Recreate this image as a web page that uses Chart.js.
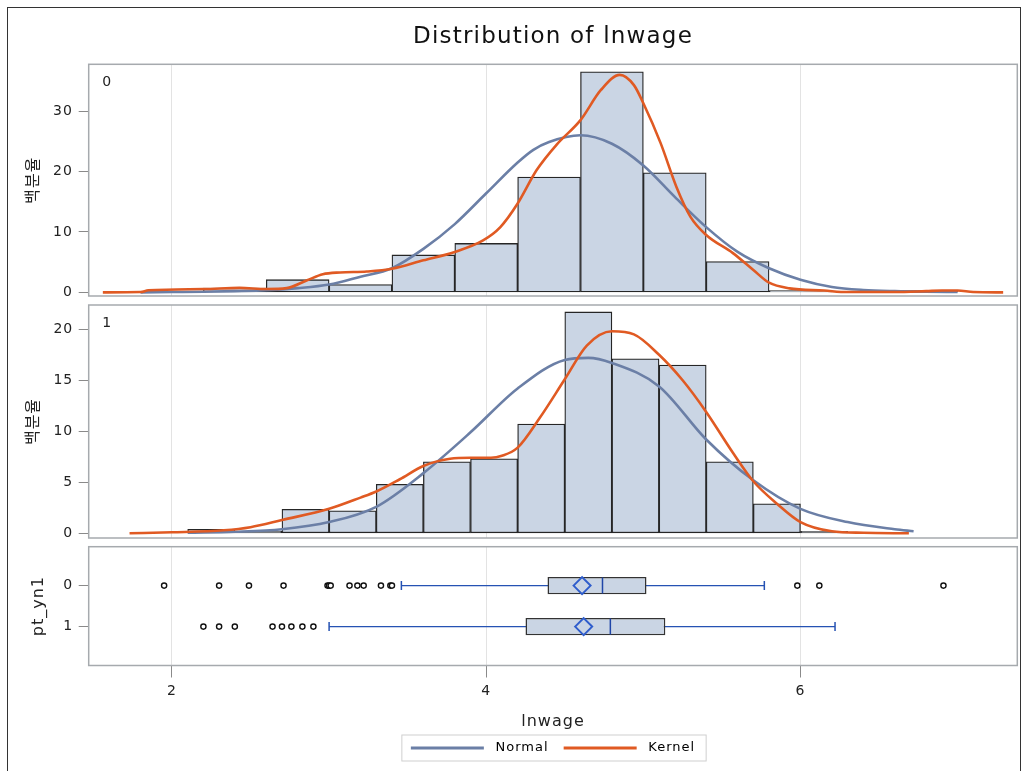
<!DOCTYPE html>
<html>
<head>
<meta charset="utf-8">
<script src="https://cdn.jsdelivr.net/npm/chart.js@4.4.1/dist/chart.umd.min.js"></script>
<style>
  html, body { margin: 0; padding: 0; background: #fff; }
  #wrap { position: relative; width: 1022px; height: 771px; overflow: hidden; }
  #frame { position: absolute; left: 7px; top: 7px; width: 1012px; height: 800px; border: 1px solid #333; }
  canvas { position: absolute; left: 0; }
</style>
</head>
<body>
<div id="wrap">
  <div id="frame"></div>
  <canvas id="histChart0" width="1022" height="310" style="top:0"></canvas>
  <canvas id="histChart1" width="1022" height="265" style="top:290px"></canvas>
  <canvas id="boxChart" width="1022" height="241" style="top:530px"></canvas>
</div>
<script>
// 공통 x축 (lnwage)
const xMin = 1.47, xMax = 7.38;
const xTicks = [2, 4, 6];

// pt_yn1 = 0 : 히스토그램 (구간폭 0.4)
const binWidth0 = 0.4;
const binStart0 = [2.2, 2.6, 3.0, 3.4, 3.8, 4.2, 4.6, 5.0, 5.4, 5.8, 6.6];
const pct0 = [0.7, 2.1, 1.3, 6.2, 8.1, 19.1, 36.5, 19.8, 5.1, 0.3, 0.3];
const yTicks0 = [0, 10, 20, 30];

const normal0X = [1.8, 2.0, 2.2, 2.4, 2.6, 2.8, 3.0, 3.2, 3.4, 3.6, 3.8, 4.0, 4.2, 4.3, 4.4, 4.6, 4.8, 5.0, 5.2, 5.4, 5.6, 5.8, 6.0, 6.2, 6.4, 6.6, 6.8, 7.0];
const normal0Y = [0.0, 0.05, 0.1, 0.2, 0.35, 0.7, 1.3, 2.6, 4.0, 7.2, 11.3, 16.4, 21.5, 23.6, 24.9, 26.0, 24.6, 21.0, 15.8, 10.8, 6.7, 4.0, 2.1, 0.9, 0.4, 0.2, 0.1, 0.05];

const kernel0X = [1.56, 1.8, 1.85, 2.2, 2.43, 2.6, 2.73, 2.86, 2.96, 3.07, 3.24, 3.4, 3.6, 3.8, 3.98, 4.09, 4.2, 4.32, 4.45, 4.6, 4.73, 4.85, 4.94, 5.0, 5.11, 5.21, 5.3, 5.4, 5.57, 5.7, 5.8, 5.93, 6.15, 6.3, 6.6, 6.8, 6.9, 7.0, 7.1, 7.29];
const kernel0Y = [0.0, 0.05, 0.35, 0.55, 0.75, 0.55, 0.7, 2.0, 3.0, 3.3, 3.45, 3.9, 5.3, 6.7, 8.6, 10.8, 14.7, 20.2, 24.5, 28.5, 33.5, 36.0, 34.3, 31.3, 24.7, 17.5, 12.5, 9.5, 6.5, 3.7, 1.6, 0.66, 0.3, 0.05, 0.05, 0.2, 0.3, 0.3, 0.05, 0.0];

// pt_yn1 = 1 : 히스토그램 (구간폭 0.3)
const binWidth1 = 0.3;
const binStart1 = [2.1, 2.4, 2.7, 3.0, 3.3, 3.6, 3.9, 4.2, 4.5, 4.8, 5.1, 5.4, 5.7, 6.0];
const pct1 = [0.4, 0.2, 2.35, 2.2, 4.8, 7.0, 7.3, 10.7, 21.7, 17.1, 16.5, 7.0, 2.9, 0.2];
const yTicks1 = [0, 5, 10, 15, 20];

const normal1X = [2.1, 2.4, 2.7, 3.0, 3.3, 3.6, 3.9, 4.2, 4.5, 4.65, 4.8, 5.1, 5.4, 5.7, 6.0, 6.3, 6.6, 6.72];
const normal1Y = [0.05, 0.15, 0.4, 1.1, 2.6, 5.9, 9.9, 14.2, 17.0, 17.2, 16.7, 14.4, 9.2, 5.2, 2.4, 1.1, 0.4, 0.2];

const kernel1X = [1.73, 2.0, 2.33, 2.5, 2.7, 3.0, 3.2, 3.3, 3.45, 3.6, 3.77, 3.9, 4.03, 4.1, 4.2, 4.34, 4.5, 4.64, 4.8, 4.94, 5.1, 5.25, 5.4, 5.57, 5.7, 5.85, 6.0, 6.2, 6.4, 6.69];
const kernel1Y = [0, 0.1, 0.3, 0.6, 1.3, 2.4, 3.5, 4.1, 5.3, 6.6, 7.3, 7.4, 7.4, 7.6, 8.4, 11.3, 15.1, 18.4, 19.8, 19.5, 17.5, 15.0, 11.9, 7.9, 5.1, 2.9, 1.1, 0.2, 0.05, 0];

// 상자그림
const groups = ['0', '1'];
const q1 = [4.39, 4.25];
const q3 = [5.02, 5.14];
const median = [4.74, 4.79];
const mean = [4.61, 4.62];
const whiskerLo = [3.46, 3.0];
const whiskerHi = [5.77, 6.22];
const outliers0 = [1.95, 2.30, 2.49, 2.71, 2.99, 3.0, 3.01, 3.13, 3.18, 3.22, 3.33, 3.39, 3.40, 5.98, 6.12, 6.91];
const outliers1 = [2.20, 2.30, 2.40, 2.64, 2.70, 2.76, 2.83, 2.90];

const barFill = '#cad5e4';
const normalColor = '#6b7fa6';
const kernelColor = '#e05a23';
const boxBlue = '#2552b3';
const gridColor = '#e3e3e3';
const tickColor = '#8a8a8a';
const axisWidth = 88.7;
const rightPad = 1022 - 1017.3;

Chart.defaults.font.family = "'DejaVu Sans', 'Noto Sans CJK KR', sans-serif";
Chart.defaults.color = '#222';
Chart.defaults.animation = false;

// 패널 테두리, 패널 라벨, 글자 간격
const panelFrame = {
  id: 'panelFrame',
  beforeUpdate(chart, args, opts) { chart.ctx.letterSpacing = opts.spacing || '0px'; },
  beforeDraw(chart, args, opts) { chart.ctx.letterSpacing = opts.spacing || '0px'; },
  afterDraw(chart, args, opts) {
    const ctx = chart.ctx;
    const a = chart.chartArea;
    ctx.save();
    ctx.strokeStyle = '#a6aaae';
    ctx.lineWidth = 1.5;
    ctx.strokeRect(a.left, a.top, a.right - a.left, a.bottom - a.top);
    if (opts.label) {
      ctx.font = "14px 'DejaVu Sans'";
      ctx.fillStyle = '#222';
      ctx.textBaseline = 'middle';
      ctx.textAlign = 'left';
      ctx.fillText(opts.label, a.left + 13.5, a.top + 18);
    }
    const lg = chart.legend;
    if (opts.legendBox && lg && lg.legendHitBoxes && lg.legendHitBoxes.length) {
      const hb = lg.legendHitBoxes;
      const l = Math.min(...hb.map(h => h.left)) - 9;
      const r = Math.max(...hb.map(h => h.left + h.width)) + 11;
      const t = Math.min(...hb.map(h => h.top)) - 6.5;
      const b = Math.max(...hb.map(h => h.top + h.height)) + 6.5;
      ctx.strokeStyle = '#cfcfcf';
      ctx.lineWidth = 1;
      ctx.strokeRect(l, t, r - l, b - t);
    }
    ctx.restore();
  }
};

function zip(xs, ys) {
  return xs.map((x, i) => ({ x: x, y: ys[i] }));
}

function hideXAxis() {
  return {
    type: 'linear', min: xMin, max: xMax, offset: false,
    afterBuildTicks: s => { s.ticks = xTicks.map(v => ({ value: v })); },
    ticks: { display: false },
    grid: { color: gridColor, drawTicks: false, offset: false },
    border: { display: false },
    afterFit: s => { s.height = 0; }
  };
}

function histChart(id, binStart, binWidth, pct, nX, nY, kX, kY, yMin, yMax, yTicks, label, layoutPad, title, spacing) {
  return new Chart(document.getElementById(id), {
    type: 'bar',
    data: {
      datasets: [
        {
          type: 'line', label: 'Kernel', data: zip(kX, kY),
          borderColor: kernelColor, borderWidth: 2.6, pointRadius: 0,
          tension: 0.4, cubicInterpolationMode: 'monotone', fill: false, order: 1
        },
        {
          type: 'line', label: 'Normal', data: zip(nX, nY),
          borderColor: normalColor, borderWidth: 2.6, pointRadius: 0,
          tension: 0.4, cubicInterpolationMode: 'monotone', fill: false, order: 2
        },
        {
          type: 'bar', label: '백분율',
          data: binStart.map((s, i) => ({ x: s + binWidth / 2, y: pct[i] })),
          backgroundColor: barFill, borderColor: '#262626', borderWidth: 1.3,
          borderSkipped: false, barPercentage: 1, categoryPercentage: 1,
          grouped: false, order: 3
        }
      ]
    },
    options: {
      responsive: false,
      layout: { padding: layoutPad, autoPadding: false },
      scales: {
        x: hideXAxis(),
        y: {
          type: 'linear', min: yMin, max: yMax, offset: false,
          afterBuildTicks: s => { s.ticks = yTicks.map(v => ({ value: v })); },
          ticks: { padding: 5.5, font: { size: 14 }, color: '#222' },
          grid: { drawOnChartArea: false, tickLength: 10, tickColor: tickColor },
          border: { display: false },
          title: { display: true, text: '백분율', font: { size: 16 }, color: '#222', padding: { top: 24, bottom: 0 } },
          afterFit: s => { s.width = axisWidth; }
        }
      },
      plugins: {
        legend: { display: false },
        tooltip: { enabled: false },
        title: title || { display: false },
        panelFrame: { label: label, spacing: spacing }
      }
    },
    plugins: [panelFrame]
  });
}

histChart('histChart0', binStart0, binWidth0, pct0, normal0X, normal0Y, kernel0X, kernel0Y,
  -0.6, 37.75, yTicks0, '0', { top: 0, bottom: 14, left: 0, right: rightPad },
  {
    display: true, text: 'Distribution of lnwage', fullSize: false,
    font: { size: 23, weight: 'normal' }, color: '#111',
    padding: { top: 23, bottom: 13.7 }
  }, '1.2px');

histChart('histChart1', binStart1, binWidth1, pct1, normal1X, normal1Y, kernel1X, kernel1Y,
  -0.46, 22.38, yTicks1, '1', { top: 15, bottom: 17, left: 0, right: rightPad },
  null, '1px');

// 상자그림 패널
const boxDatasets = [];
groups.forEach((g, i) => {
  boxDatasets.push({
    type: 'line', label: 'whisker ' + g,
    data: [{ x: whiskerLo[i], y: i }, { x: whiskerHi[i], y: i }],
    borderColor: boxBlue, borderWidth: 1.3,
    pointStyle: 'line', pointRotation: 90, pointRadius: 4.5,
    pointBorderColor: boxBlue, pointBorderWidth: 1.5, order: 5
  });
});
boxDatasets.push({
  type: 'bar', label: 'box', indexAxis: 'y',
  data: groups.map((g, i) => ({ y: i, x: [q1[i], q3[i]] })),
  backgroundColor: barFill, borderColor: '#333', borderWidth: 1.5,
  borderSkipped: false, barPercentage: 0.42, categoryPercentage: 1, order: 4
});
boxDatasets.push({
  type: 'scatter', label: 'median',
  data: groups.map((g, i) => ({ x: median[i], y: i })),
  pointStyle: 'line', pointRotation: 90, pointRadius: 8,
  pointBorderColor: '#2046a8', pointBorderWidth: 1.5, order: 3
});
boxDatasets.push({
  type: 'scatter', label: 'mean',
  data: groups.map((g, i) => ({ x: mean[i], y: i })),
  pointStyle: 'rectRot', pointRadius: 8.5,
  pointBorderColor: '#2f5dcc', pointBackgroundColor: 'rgba(0,0,0,0)', pointBorderWidth: 2, order: 2
});
boxDatasets.push({
  type: 'scatter', label: 'outlier',
  data: outliers0.map(v => ({ x: v, y: 0 })).concat(outliers1.map(v => ({ x: v, y: 1 }))),
  pointStyle: 'circle', pointRadius: 2.6,
  pointBorderColor: '#111', pointBackgroundColor: '#fff', pointBorderWidth: 1.4, order: 1
});

new Chart(document.getElementById('boxChart'), {
  type: 'scatter',
  data: { datasets: boxDatasets },
  options: {
    responsive: false,
    layout: { padding: { top: 16.7, bottom: 6.5, left: 0, right: rightPad }, autoPadding: false },
    scales: {
      x: {
        type: 'linear', min: xMin, max: xMax, offset: false,
        afterBuildTicks: s => { s.ticks = xTicks.map(v => ({ value: v })); },
        ticks: { padding: 5, font: { size: 14 }, color: '#222' },
        grid: { color: gridColor, tickColor: tickColor, tickLength: 12, offset: false },
        border: { display: false },
        title: { display: true, text: 'lnwage', font: { size: 16 }, color: '#222', padding: { top: 8, bottom: 0 } }
      },
      y: {
        type: 'linear', min: -0.95, max: 1.95, reverse: true, offset: false,
        afterBuildTicks: s => { s.ticks = groups.map((g, i) => ({ value: i })); },
        ticks: { padding: 5.5, font: { size: 14 }, color: '#222', callback: v => groups[v] },
        grid: { drawOnChartArea: false, tickLength: 10, tickColor: tickColor, offset: false },
        border: { display: false },
        title: { display: true, text: 'pt_yn1', font: { size: 16 }, color: '#222', padding: { top: 29, bottom: 0 } },
        afterFit: s => { s.width = axisWidth; }
      }
    },
    plugins: {
      tooltip: { enabled: false },
      legend: {
        display: true, position: 'bottom', fullSize: false,
        labels: {
          usePointStyle: true, pointStyleWidth: 73, padding: 10,
          font: { size: 13 }, color: '#222',
          generateLabels: () => [
            { text: ' Normal ', strokeStyle: normalColor, fillStyle: normalColor, lineWidth: 3, pointStyle: 'line', hidden: false },
            { text: ' Kernel', strokeStyle: kernelColor, fillStyle: kernelColor, lineWidth: 3, pointStyle: 'line', hidden: false }
          ]
        }
      },
      panelFrame: { spacing: '1px', legendBox: true }
    }
  },
  plugins: [panelFrame]
});
</script>
</body>
</html>
